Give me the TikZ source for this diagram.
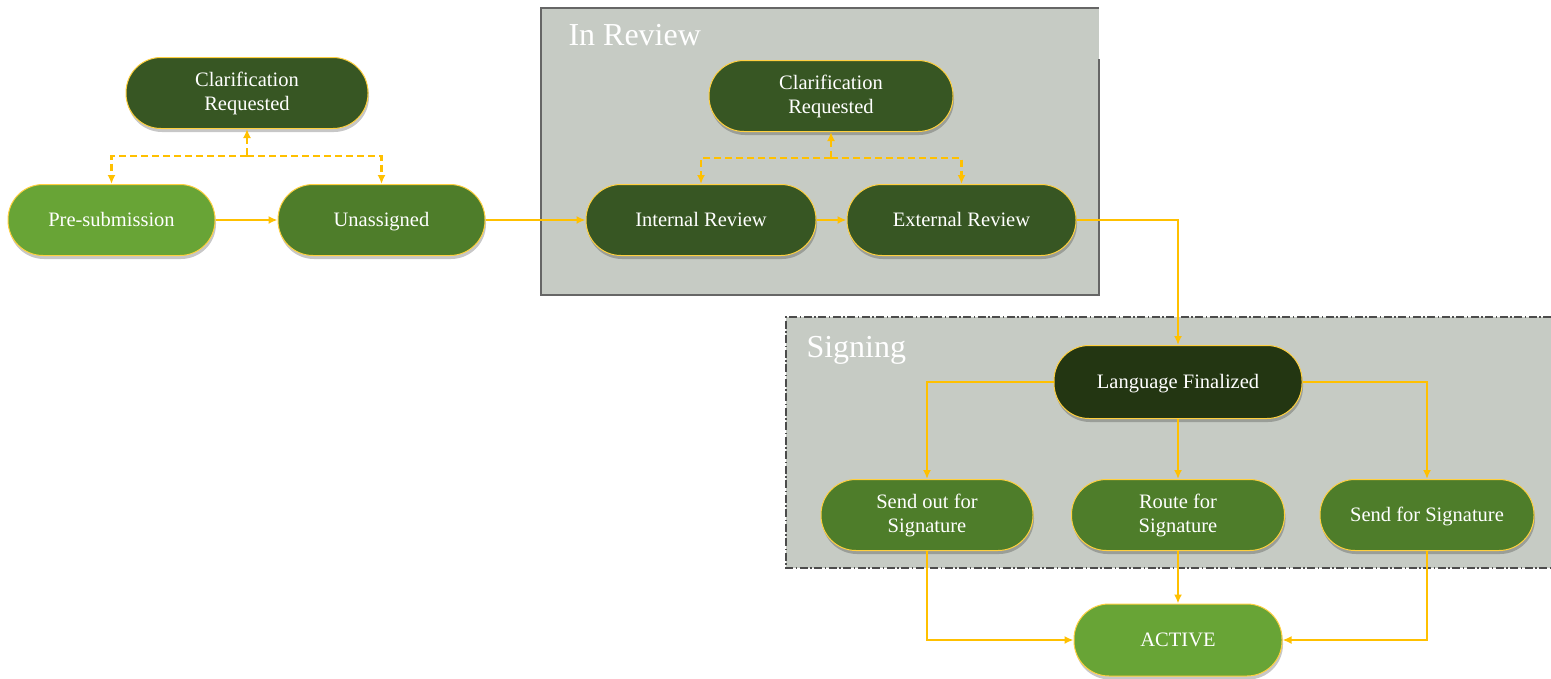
\documentclass[tikz,border=0pt]{standalone}
\usepackage{fontspec}
\setmainfont{Liberation Serif}
\usetikzlibrary{arrows.meta,shadows}

\definecolor{darkgrn}{HTML}{375623}
\definecolor{midgrn}{HTML}{4E7D2A}
\definecolor{ltgrn}{HTML}{68A436}
\definecolor{deepgrn}{HTML}{233612}
\definecolor{amber}{HTML}{FFC000}
\definecolor{panel}{HTML}{C6CBC4}

\begin{document}
\begin{tikzpicture}[x=1pt, y=-1pt, >={Latex[length=9pt,width=8pt]},
    state/.style={draw=amber!75!white, line width=1pt, rounded corners=35pt,
        minimum height=71pt, text=white, align=center,
        font=\fontsize{20.5}{24}\selectfont,
        drop shadow={shadow xshift=1pt, shadow yshift=-3.5pt, opacity=.22, fill=black}},
    oneline/.style={text height=15pt, text depth=2pt},
    flow/.style={amber, line width=2.4pt, ->},
    optflow/.style={flow, dash pattern=on 7pt off 4pt},
    title/.style={anchor=base west, text=white, font=\fontsize{32}{35}\selectfont}]
\useasboundingbox (0,0) rectangle (1551,678);

% the two stage panels
\fill[panel] (541,8) rectangle (1099,295);
\draw[gray!80!black, line width=1.2pt] (1099,59)--(1099,295)--(541,295)--(541,8)--(1099,8);
\node[title] (rev) at (565,45) {In Review};
\fill[panel] (786,317) rectangle (1551,568);
\draw[black!70, line width=1.2pt, dash pattern=on 8pt off 2.5pt on 1.5pt off 2.5pt]
    (1551,317)--(786,317)--(786,568)--(1551,568);
\node[title] (sig) at (803,357) {Signing};

% states
\node[state, fill=darkgrn, minimum width=242pt] (cl1) at (247,93) {Clarification\\Requested};
\node[state, oneline, fill=ltgrn, minimum width=207pt] (pre) at (111.5,220) {Pre-submission};
\node[state, oneline, fill=midgrn, minimum width=207pt] (una) at (381.5,220) {Unassigned};
\node[state, fill=darkgrn, minimum width=244pt] (cl2) at (831,96) {Clarification\\Requested};
\node[state, oneline, fill=darkgrn, minimum width=230pt] (int) at (701,220) {Internal Review};
\node[state, oneline, fill=darkgrn, minimum width=229pt] (ext) at (961.5,220) {External Review};
\node[state, oneline, fill=deepgrn, minimum width=248pt, minimum height=73pt] (lang) at (1178,382) {Language Finalized};
\node[state, fill=midgrn, minimum width=212pt] (sout) at (927,515) {Send out for\\Signature};
\node[state, fill=midgrn, minimum width=213pt] (route) at (1178,515) {Route for\\Signature};
\node[state, oneline, fill=midgrn, minimum width=214pt] (sfor) at (1427,515) {Send for Signature};
\node[state, oneline, fill=ltgrn, minimum width=208pt, minimum height=72pt] (act) at (1178,640) {ACTIVE};

% clarification loops
\coordinate (j1) at (247,156);
\draw[optflow, <-] (cl1.south) -- (j1);
\draw[optflow] (j1) -| (pre.north);
\draw[optflow] (j1) -| (una.north);
\coordinate (j2) at (831,158);
\draw[optflow, <-] (cl2.south) -- (j2);
\draw[optflow] (j2) -| (int.north);
\draw[optflow] (j2) -| (ext.north);

% main flow
\draw[flow] (pre) -- (una);
\draw[flow] (una) -- (int);
\draw[flow] (int) -- (ext);
\draw[flow] (ext.east) -| (lang.north);
\draw[flow] (lang.west) -| (sout.north);
\draw[flow] (lang) -- (route);
\draw[flow] (lang.east) -| (sfor.north);
\draw[flow] (sout.south) |- (act.west);
\draw[flow] (route) -- (act);
\draw[flow] (sfor.south) |- (act.east);

\end{tikzpicture}
\end{document}
